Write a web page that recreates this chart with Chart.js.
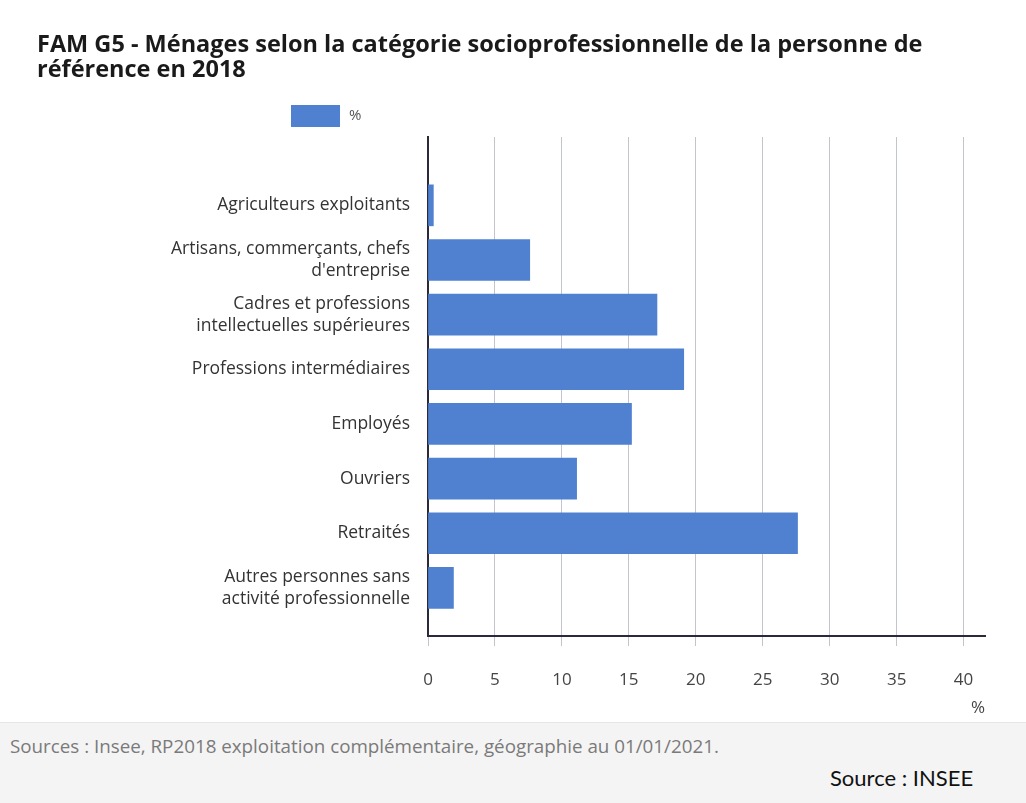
<!DOCTYPE html>
<html>
<head>
<meta charset="utf-8">
<script src="https://cdn.jsdelivr.net/npm/chart.js@4/dist/chart.umd.min.js"></script>
<style>
  html, body { margin: 0; padding: 0; background: #fff; }
  #wrap { position: relative; width: 1026px; height: 722px; }
  #footer { position: relative; width: 1026px; height: 81px; background: #f4f4f4; border-top: 1px solid #e6e6e6; box-sizing: border-box; }
  #sources { position: absolute; left: 10px; top: 10px; font: 18.8px "Open Sans", sans-serif; color: #7a7a7a; }
  #insee { position: absolute; left: 830px; top: 41px; font: 22px Lato, sans-serif; color: #111; }
</style>
</head>
<body>
<div id="wrap"><canvas id="chart"></canvas></div>
<div id="footer">
  <div id="sources">Sources : Insee, RP2018 exploitation complémentaire, géographie au 01/01/2021.</div>
  <div id="insee">Source : INSEE</div>
</div>

<script>
// catégories (une ligne par élément de tableau)
const categories = [
    ['Agriculteurs exploitants'],
    ['Artisans, commerçants, chefs', "d'entreprise"],
    ['Cadres et professions', 'intellectuelles supérieures'],
    ['Professions intermédiaires'],
    ['Employés'],
    ['Ouvriers'],
    ['Retraités'],
    ['Autres personnes sans', 'activité professionnelle']
];
const shares = [0.4, 7.6, 17.1, 19.1, 15.2, 11.1, 27.6, 1.9];
const seriesLabel = '%';
const titleLines = [
    'FAM G5 - Ménages selon la catégorie socioprofessionnelle de la personne de',
    'référence en 2018'
];

const barColor = '#4f81d0';

// petite légende dessinée à la main, placée au-dessus des libellés
const manualLegend = {
    id: 'manualLegend',
    afterDraw(chart) {
        const { ctx, chartArea } = chart;
        const ds = chart.data.datasets[0];
        const x = chartArea.left - 137;
        const y = chartArea.top - 32;
        ctx.save();
        ctx.fillStyle = ds.backgroundColor;
        ctx.fillRect(x, y, 49, 22);
        ctx.fillStyle = '#555';
        ctx.font = '15px "Open Sans", sans-serif';
        ctx.textBaseline = 'middle';
        ctx.fillText(ds.label, x + 58, y + 11);
        ctx.restore();
    }
};

const ctx = document.getElementById('chart').getContext('2d');
new Chart(ctx, {
    type: 'bar',
    data: {
        datasets: [{
            label: seriesLabel,
            data: shares.map((v, i) => ({ x: v, y: i })),
            backgroundColor: barColor,
            borderWidth: 0,
            barThickness: 41
        }]
    },
    options: {
        indexAxis: 'y',
        responsive: true,
        maintainAspectRatio: false,
        animation: false,
        layout: { padding: { left: 37, right: 41, top: 0, bottom: 4 } },
        scales: {
            x: {
                type: 'linear',
                min: 0,
                max: 41.6,
                afterFit(scale) { scale.height = 82; },
                ticks: {
                    stepSize: 5,
                    includeBounds: false,
                    padding: 24,
                    color: '#444',
                    font: { family: 'Open Sans', size: 17 }
                },
                grid: {
                    color: '#c4c4cc',
                    lineWidth: 1,
                    tickLength: 10,
                    tickColor: '#c4c4cc'
                },
                border: { color: '#2a2a3a', width: 2 },
                title: {
                    display: true,
                    text: '%',
                    align: 'end',
                    color: '#444',
                    font: { family: 'Open Sans', size: 17 },
                    padding: { top: 6, bottom: 0 }
                }
            },
            y: {
                type: 'linear',
                reverse: true,
                offset: false,
                min: -1.25,
                max: 7.88,
                afterFit(scale) { scale.width = 391; },
                ticks: {
                    stepSize: 1,
                    includeBounds: false,
                    padding: 18,
                    color: '#333',
                    font: { family: 'Open Sans', size: 17.5, lineHeight: 1.27 },
                    callback: (v) => Number.isInteger(v) && categories[v] ? categories[v] : ''
                },
                grid: { display: false, drawTicks: false },
                border: { color: '#2a2a3a', width: 2 }
            }
        },
        plugins: {
            legend: { display: false },
            tooltip: { enabled: false },
            title: {
                display: true,
                text: titleLines,
                align: 'start',
                color: '#1a1a1a',
                font: { family: 'Open Sans', size: 23.5, weight: 'bold', lineHeight: 1.064 },
                padding: { top: 33, bottom: 54 }
            }
        }
    },
    plugins: [manualLegend]
});
</script>
</body>
</html>
